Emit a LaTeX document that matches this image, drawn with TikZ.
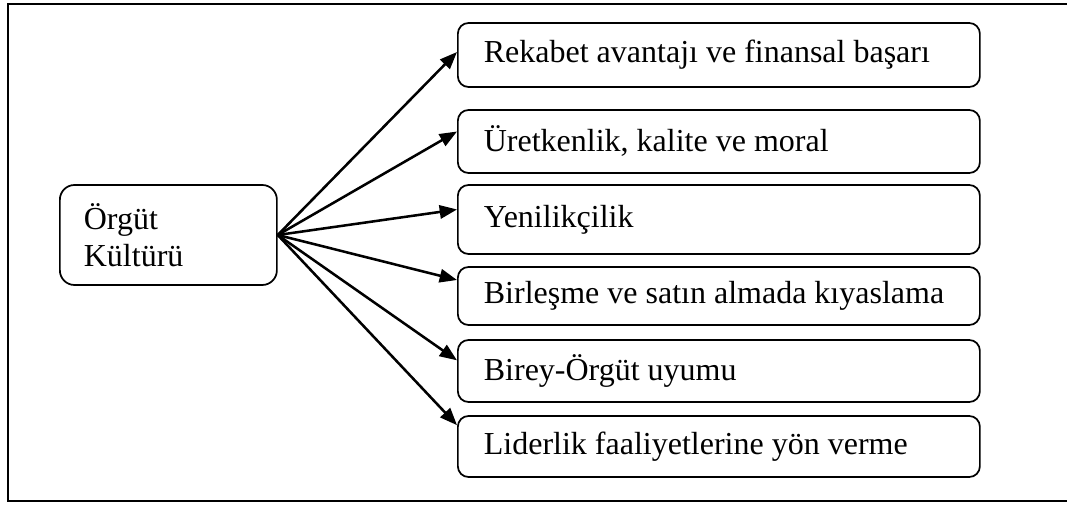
\documentclass[tikz,border=0pt]{standalone}
\usepackage{fontspec}
\setmainfont{Liberation Serif}
\usetikzlibrary{arrows.meta}

\tikzset{
  kutu/.style={draw, line width=1.3pt, rounded corners=8pt, anchor=west, minimum width=391.5pt, inner xsep=19.5pt, font=\fontsize{24}{28}\selectfont, execute at begin node={\hbox to 352.5pt\bgroup}, execute at end node={\hfil\egroup}},
  ok/.style={-{Triangle[length=13pt,width=10pt]}, line width=1.9pt}
}

\begin{document}
\begin{tikzpicture}[x=0.75pt,y=-0.75pt]
  \useasboundingbox (0,0) rectangle (1067,505);
  \draw[line width=1.6pt] (1080,4) -- (8,4) -- (8,501) -- (1080,501);

  \node[draw, line width=1.3pt, rounded corners=11pt, anchor=west, minimum width=162.75pt, minimum height=75pt, text width=126.75pt, inner xsep=18pt, align=left, font=\fontsize{24}{27.75}\selectfont] (OK) at (59,235) {Örgüt\\Kültürü};

  \draw (457,55) node[kutu, minimum height=48pt] (R1) {Rekabet avantajı ve finansal başarı} +(0,86.5) node[kutu, minimum height=47.25pt] (R2) {Üretkenlik, kalite ve moral} +(0,164.5) node[kutu, minimum height=51.75pt] (R3) {Yenilikçilik} +(0,241) node[kutu, minimum height=43.5pt] (R4) {Birleşme ve satın almada kıyaslama} +(0,316) node[kutu, minimum height=46.5pt] (R5) {Birey-Örgüt uyumu} +(0,391.5) node[kutu, minimum height=45.75pt] (R6) {Liderlik faaliyetlerine yön verme};

  \draw[ok] (OK.east) -- ([yshift=2.25pt]R1.west);
  \draw[ok] (OK.east) -- ([yshift=7.5pt]R2.west);
  \draw[ok] (OK.east) -- ([yshift=7.5pt]R3.west);
  \draw[ok] (OK.east) -- ([yshift=12pt]R4.west);
  \draw[ok] (OK.east) -- ([yshift=8pt]R5.west);
  \draw[ok] (OK.east) -- ([yshift=16pt]R6.west);
\end{tikzpicture}
\end{document}
